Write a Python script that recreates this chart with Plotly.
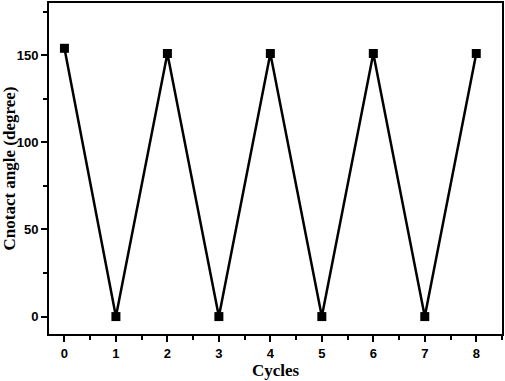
import plotly.graph_objects as go

cycles = [0, 1, 2, 3, 4, 5, 6, 7, 8]
angles = [154, 0, 151, 0, 151, 0, 151, 0, 151]
x_ticks = [0, 1, 2, 3, 4, 5, 6, 7, 8]
y_ticks = [0, 50, 100, 150]

fig = go.Figure()
fig.add_trace(go.Scatter(
    x=cycles, y=angles, mode="lines+markers",
    line=dict(color="black", width=2.5),
    marker=dict(symbol="square", size=9, color="black"),
    showlegend=False,
))

tickfont = dict(family="Liberation Sans", size=13, color="black")
titlefont = dict(family="Liberation Serif", size=17, color="black")

fig.update_layout(
    width=505, height=381,
    margin=dict(l=49, r=3, t=3, b=47),
    paper_bgcolor="white", plot_bgcolor="white",
    xaxis=dict(
        range=[-0.3, 8.5], tickvals=x_ticks, ticktext=[f"<b>{v}</b>" for v in x_ticks],
        ticks="outside", ticklen=6, tickwidth=1.5, tickcolor="black",
        minor=dict(ticks="outside", ticklen=4, tickwidth=1.5, dtick=0.5, tick0=0, tickcolor="black"),
        showline=True, linewidth=2, linecolor="black", mirror=True,
        showgrid=False, zeroline=False, tickfont=tickfont, automargin=False,
        title=dict(text="<b>Cycles</b>", font=titlefont, standoff=0),
    ),
    yaxis=dict(
        range=[-10, 180], tickvals=y_ticks, ticktext=[f"<b>{v}</b>" for v in y_ticks],
        ticks="outside", ticklen=6, tickwidth=1.5, tickcolor="black",
        minor=dict(ticks="outside", ticklen=4, tickwidth=1.5, dtick=25, tick0=0, tickcolor="black"),
        showline=True, linewidth=2, linecolor="black", mirror=True,
        showgrid=False, zeroline=False, tickfont=tickfont, automargin=False,
        title=dict(text="<b>Cnotact angle (degree)</b>", font=titlefont, standoff=2),
    ),
)

fig.write_html("out.html", config={"displayModeBar": False},
               post_script="document.body.style.margin='0px';")
